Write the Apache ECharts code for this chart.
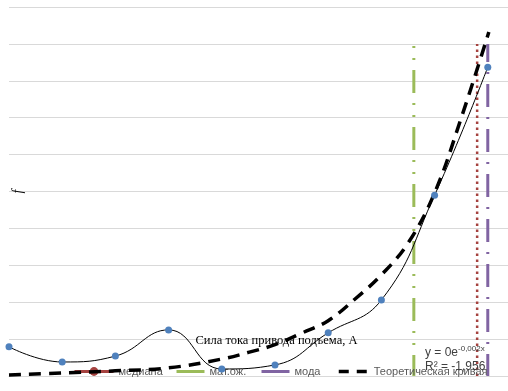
<!DOCTYPE html>
<html><head><meta charset="utf-8">
<script src="https://cdn.jsdelivr.net/npm/echarts@6/dist/echarts.min.js"></script>
<style>html,body{margin:0;padding:0;background:#fff}#c{width:508px;height:391px}</style>
</head><body><div id="c"></div>
<script>
// Data (x in interval index units, y in frequency grid units)
const xIdx = [0, 1, 2, 3, 4, 5, 6, 7, 8, 9];
const observed = [0.79, 0.38, 0.54, 1.25, 0.19, 0.30, 1.17, 2.06, 4.90, 8.37];
const theoX = [0, 1, 2, 3, 4, 4.5, 5, 5.5, 6, 6.5, 7, 7.5, 8, 8.5, 9.02];
const theoY = [0.03, 0.08, 0.14, 0.22, 0.46, 0.64, 0.85, 1.16, 1.5, 2.08, 2.74, 3.6, 4.96, 6.99, 9.32];
const medianX = 8.80;
const meanX = 7.61;
const modeX = 9.0;
const vLineTop = 9;
const seriesNames = ['медиана', 'мат.ож.', 'мода', 'Теоретическая кривая'];
const xTitle = 'Сила тока привода подъема, А';
const yTitle = 'f';
const trendEq = 'y = 0e';
const trendExp = '-0,002x';
const trendR2 = 'R² = -1,956';

const C_MED = '#A5423F', C_MEAN = '#9BBB59', C_MODE = '#8064A2', C_THEO = '#000000';

const chart = echarts.init(document.getElementById('c'));
const legendText = {color: '#595959', fontSize: 11, fontFamily: 'Liberation Sans'};
function lg(name, left, w, color, width, type, showMarker) {
  const item = {name: name, lineStyle: {color: color, width: width, type: type}};
  item.itemStyle = showMarker ? {color: color, opacity: 1} : {opacity: 0};
  return {data: [item], left: left, top: 366, itemWidth: w, itemHeight: 11,
    textStyle: legendText, padding: 0, selectedMode: false};
}
const legends = [
  lg(seriesNames[0], 73, 39, C_MED, 3, 'solid', true),
  lg(seriesNames[1], 175, 28, C_MEAN, 3, 'solid', false),
  lg(seriesNames[2], 260, 28, C_MODE, 3, 'solid', false),
  lg(seriesNames[3], 337, 30, C_THEO, 3.5, [10, 8], false)
];

chart.setOption({
  animation: false,
  grid: {left: 9, right: 0, top: 7, bottom: 15},
  legend: legends,
  xAxis: {type: 'value', min: 0, max: 9.38,
    axisLine: {show: true, lineStyle: {color: '#d9d9d9'}}, axisTick: {show: false}, axisLabel: {show: false},
    splitLine: {show: false},
    name: xTitle, nameLocation: 'middle', nameGap: -42,
    nameTextStyle: {fontFamily: 'Liberation Serif', fontSize: 12.5, color: '#000', padding: [0, 0, 0, 36]}},
  yAxis: {type: 'value', min: 0, max: 10, interval: 1,
    axisLine: {show: false}, axisTick: {show: false}, axisLabel: {show: false},
    splitLine: {lineStyle: {color: '#d9d9d9', width: 1}},
    name: yTitle, nameLocation: 'middle', nameGap: -16, nameRotate: 90,
    nameTextStyle: {fontFamily: 'Liberation Serif', fontSize: 14, fontStyle: 'italic', color: '#000'}},
  series: [
    {name: 'observed', type: 'line', smooth: 0.45, data: xIdx.map((x, i) => [x, observed[i]]),
      symbol: 'circle', symbolSize: 7, itemStyle: {color: '#4F81BD'},
      lineStyle: {color: '#000', width: 1}, z: 5},
    {name: seriesNames[0], type: 'line', data: [[medianX, 0], [medianX, vLineTop]],
      symbol: 'circle', showSymbol: false, itemStyle: {color: C_MED},
      lineStyle: {color: C_MED, width: 2.5, type: [2.5, 3.5]}, z: 3},
    {name: seriesNames[1], type: 'line', data: [[meanX, 0], [meanX, vLineTop]],
      symbol: 'none', itemStyle: {color: C_MEAN},
      lineStyle: {color: C_MEAN, width: 3, type: [23, 10, 2, 10, 2, 10], dashOffset: 2}, z: 3},
    {name: seriesNames[2], type: 'line', data: [[modeX, 0], [modeX, vLineTop]],
      symbol: 'none', itemStyle: {color: C_MODE},
      lineStyle: {color: C_MODE, width: 3, type: [23, 10, 2, 10], dashOffset: 1}, z: 3},
    {name: seriesNames[3], type: 'line', smooth: 0.4, data: theoX.map((x, i) => [x, theoY[i]]),
      symbol: 'none', itemStyle: {color: C_THEO},
      lineStyle: {color: C_THEO, width: 3.5, type: [12, 8]}, z: 4}
  ],
  graphic: [
    {type: 'text', left: 425, top: 345, z: 10, style: {
      text: '{a|' + trendEq + '}{s|' + trendExp + '}',
      rich: {a: {fontSize: 12, fontFamily: 'Liberation Sans', fill: '#404040', verticalAlign: 'bottom'},
             s: {fontSize: 8, fontFamily: 'Liberation Sans', fill: '#404040', verticalAlign: 'top', padding: [0, 0, 6, 0]}}}},
    {type: 'text', left: 425, top: 361, z: 10, style: {text: trendR2, fontSize: 12, fontFamily: 'Liberation Sans', fill: '#404040'}}
  ]
});
</script></body></html>
